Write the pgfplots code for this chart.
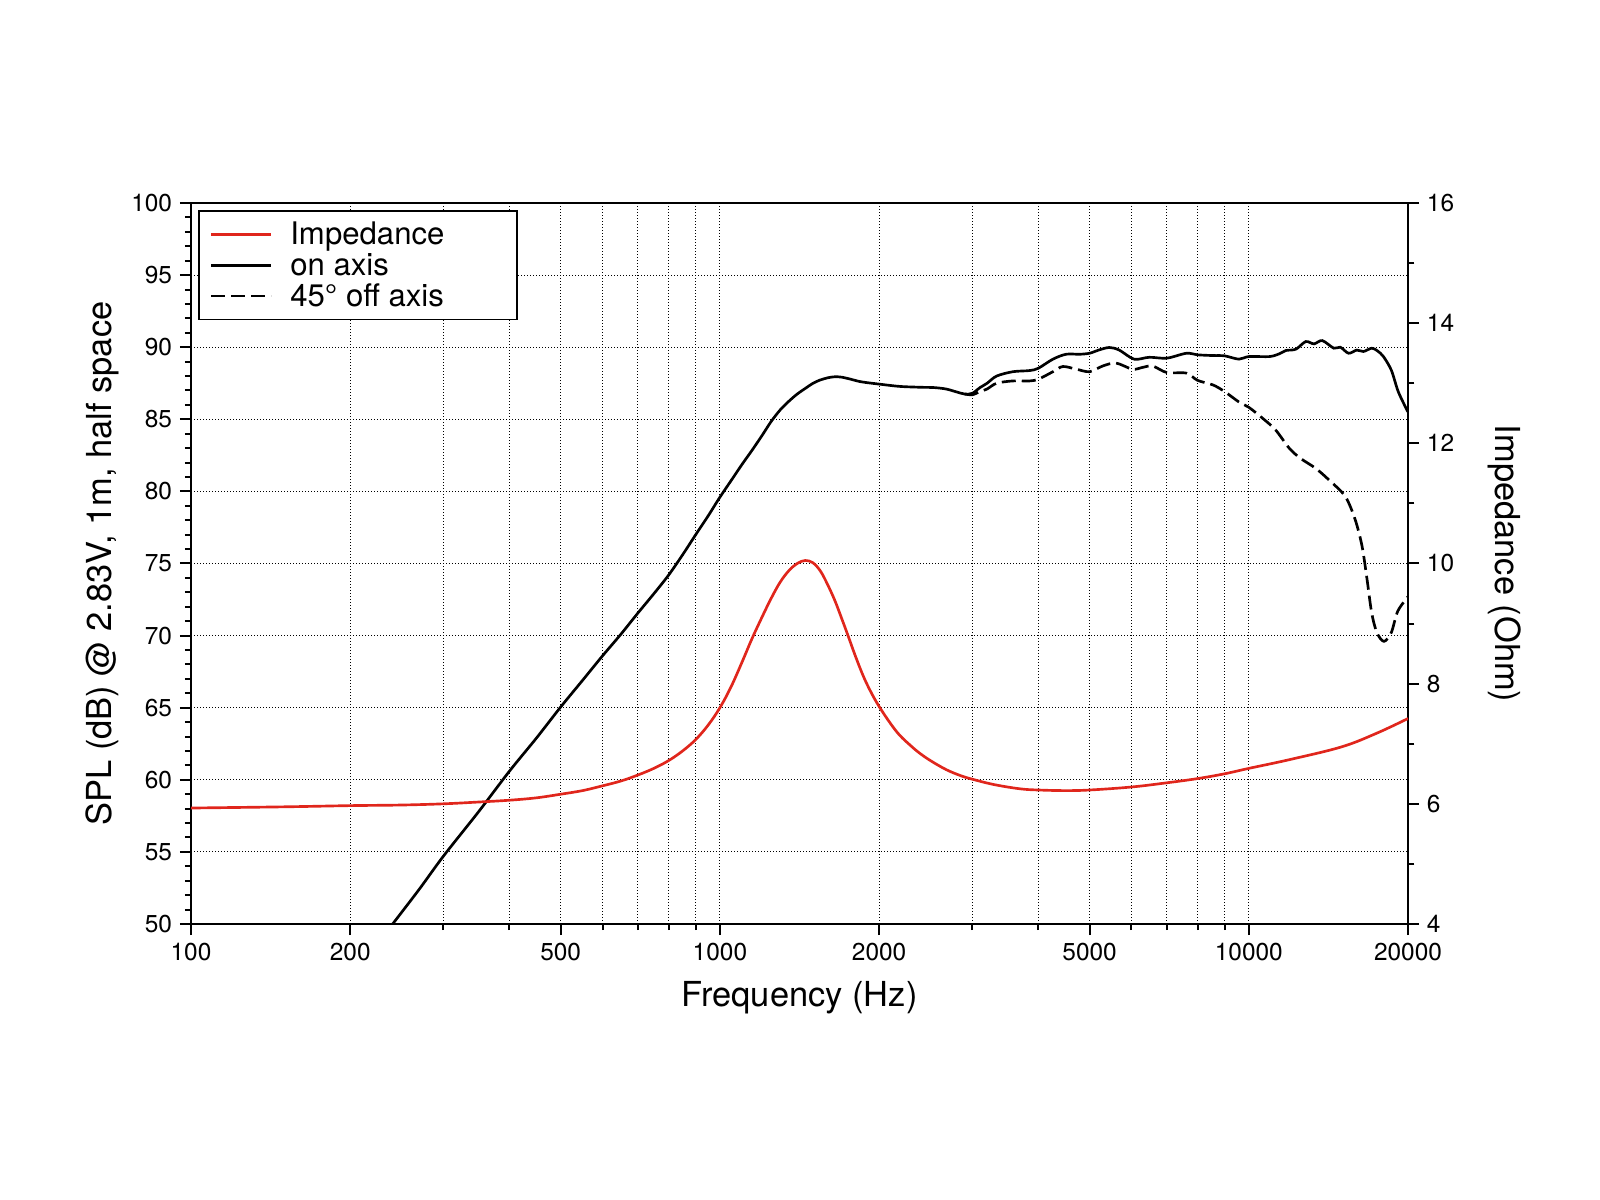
\documentclass[border=0pt]{standalone}
\usepackage{pgfplots}
\pgfplotsset{compat=1.18}
\usepackage{fontspec}
\setmainfont{TeX Gyre Heros}
\definecolor{impred}{RGB}{224,38,28}

\pgfplotstableread{
f z
100 5.93
150 5.95
200 5.97
250 5.98
300 6.00
350 6.03
400 6.06
450 6.10
500 6.16
550 6.22
600 6.30
650 6.38
700 6.48
750 6.59
800 6.72
850 6.88
900 7.07
950 7.31
1000 7.60
1050 7.95
1100 8.35
1150 8.75
1200 9.10
1250 9.42
1300 9.69
1350 9.88
1400 10.00
1450 10.05
1500 10.01
1550 9.87
1600 9.64
1650 9.38
1700 9.08
1750 8.78
1800 8.48
1866 8.13
1930 7.86
2000 7.62
2100 7.34
2188 7.14
2300 6.96
2388 6.84
2500 6.72
2677 6.57
2850 6.47
3000 6.41
3300 6.32
3692 6.25
4000 6.23
4500 6.22
5000 6.23
6000 6.28
7000 6.35
8000 6.42
9000 6.50
10000 6.59
12000 6.74
15000 6.95
17500 7.18
20000 7.42
}\impedance

\pgfplotstableread{
f spl
236 49.6
240 49.95
270 52.4
300 54.7
350 57.8
400 60.6
450 62.9
500 65.05
550 66.9
600 68.6
650 70.1
700 71.57
750 72.9
800 74.2
850 75.6
900 77.0
950 78.3
1000 79.6
1050 80.75
1100 81.85
1150 82.85
1200 83.85
1250 84.85
1300 85.65
1350 86.25
1400 86.75
1458 87.2
1500 87.5
1546 87.72
1600 87.88
1650 87.95
1700 87.92
1758 87.8
1850 87.6
2000 87.44
2188 87.28
2400 87.22
2538 87.2
2677 87.1
2800 86.9
2903 86.75
3000 86.8
3103 87.2
3200 87.5
3336 88.0
3580 88.3
3852 88.38
4000 88.54
4262 89.17
4513 89.51
4785 89.51
5000 89.58
5200 89.8
5449 89.98
5689 89.8
6069 89.17
6482 89.3
7000 89.24
7620 89.58
8000 89.47
8560 89.42
9000 89.4
9578 89.17
10000 89.35
10947 89.35
11419 89.54
11752 89.77
12271 89.86
12812 90.39
13280 90.23
13769 90.46
14477 89.93
14893 90.0
15438 89.58
16003 89.8
16470 89.7
17073 89.93
17500 89.75
17967 89.35
18600 88.4
19175 86.9
20000 85.5
}\onaxis

\pgfplotstableread{
f spl
2903 86.75
3000 86.7
3103 86.92
3200 87.1
3336 87.5
3580 87.66
3852 87.66
4000 87.78
4262 88.3
4450 88.66
4722 88.47
5000 88.3
5297 88.7
5609 88.9
6026 88.47
6300 88.6
6575 88.7
7000 88.24
7620 88.2
8000 87.7
8560 87.38
9000 86.92
9578 86.2
10000 85.83
10620 85.07
11236 84.26
11920 83.0
12512 82.3
13377 81.6
14168 80.8
15217 79.65
15891 78.03
16370 76.2
16730 73.9
17073 71.57
17468 70.2
18010 69.6
18590 70.2
19130 71.7
20000 72.7
}\offaxis

\begin{document}
\begin{tikzpicture}
\useasboundingbox (-85.95pt,-124.2pt) rectangle (634.05pt,415.8pt);
\begin{axis}[
  scale only axis, width=547.65pt, height=324.45pt,
  xmode=log, xmin=100, xmax=20000,
  axis line style={line width=0.9pt},
  every tick/.style={black, line width=0.9pt},
  tick align=outside,
  major tick length=5pt, minor tick length=2.8pt,
  tick label style={font=\fontsize{11}{13}\selectfont},
  /pgf/number format/assume math mode=true,
  ymin=50, ymax=100, ytick={50,55,...,100}, minor y tick num=4,
  xtick={100,200,500,1000,2000,5000,10000,20000},
  xticklabels={100,200,500,1000,2000,5000,10000,20000},
  minor xtick={300,400,600,700,800,900,3000,4000,6000,7000,8000,9000},
  xtick pos=left, ytick pos=left,
  xmajorgrids, xminorgrids, ymajorgrids,
  grid style={black, line width=0.45pt, dash pattern=on 0.45pt off 0.9pt},
  minor grid style={black, line width=0.45pt, dash pattern=on 0.45pt off 0.9pt},
  xlabel={Frequency (Hz)}, ylabel={SPL (dB) @ 2.83V, 1m, half space},
  every axis x label/.style={at={(axis description cs:0.5,-0.1026)}, anchor=center, font=\fontsize{15.5}{18}\selectfont},
  every axis y label/.style={at={(axis description cs:-0.0731,0.5)}, anchor=center, rotate=90, font=\fontsize{15.5}{18}\selectfont},
]
\addplot[black, line width=1.2pt, smooth, tension=0.5] table[x=f, y=spl] {\onaxis};
\addplot[black, line width=1.2pt, smooth, tension=0.5, dash pattern=on 6.3pt off 2.7pt] table[x=f, y=spl] {\offaxis};
\end{axis}
\begin{axis}[
  scale only axis, width=547.65pt, height=324.45pt,
  xmode=log, xmin=100, xmax=20000,
  axis line style={line width=0.9pt},
  every tick/.style={black, line width=0.9pt},
  tick align=outside,
  major tick length=5pt, minor tick length=2.8pt,
  tick label style={font=\fontsize{11}{13}\selectfont},
  /pgf/number format/assume math mode=true,
  axis y line*=right, axis x line=none,
  ymin=4, ymax=16, ytick={4,6,...,16}, minor y tick num=1,
  ylabel={Impedance (Ohm)},
  every axis y label/.style={at={(axis description cs:1.0797,0.5)}, anchor=center, rotate=-90, font=\fontsize{15.5}{18}\selectfont},
  legend cell align=left,
  legend image code/.code={\draw[#1] (0pt,0pt) -- (27pt,0pt);},
  legend style={at={(rel axis cs:0.00575,0.9903)}, anchor=north west,
    draw=black, line width=0.7pt, font=\fontsize{14}{14}\selectfont,
    inner xsep=5pt, inner ysep=3.8pt, row sep=0pt,
    nodes={inner sep=0pt, text height=11.6pt, text depth=2.2pt},
    /tikz/every odd column/.append style={column sep=8pt}},
]
\addplot[impred, line width=1.2pt, smooth, tension=0.6] table[x=f, y=z] {\impedance};
\addlegendentry{\makebox[97pt][l]{Impedance}}
\addlegendimage{black, line width=1.2pt}
\addlegendentry{on axis}
\addlegendimage{black, line width=1.2pt, dash pattern=on 6.3pt off 2.7pt}
\addlegendentry{45° off axis}
\end{axis}
\end{tikzpicture}
\end{document}
